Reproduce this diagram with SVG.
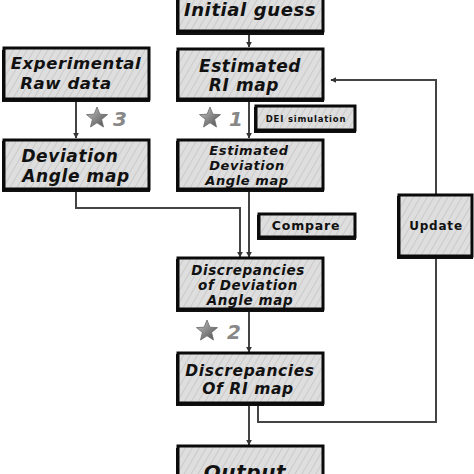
<svg xmlns="http://www.w3.org/2000/svg" width="474" height="474" viewBox="0 0 474 474">
<defs>
<pattern id="hatch" width="6" height="6" patternUnits="userSpaceOnUse" patternTransform="rotate(30)">
<rect width="6" height="6" fill="#dedede"/>
<line x1="0" y1="0" x2="0" y2="6" stroke="#c4c4c4" stroke-width="1.5"/>
</pattern>
<marker id="ah" viewBox="0 0 10 10" refX="9" refY="5" markerWidth="6" markerHeight="6" orient="auto" markerUnits="userSpaceOnUse">
<path d="M0,0 L10,5 L0,10 z" fill="#333"/>
</marker>
<linearGradient id="sg" x1="0" y1="0" x2="1" y2="1">
<stop offset="0" stop-color="#c8c8c8"/>
<stop offset="1" stop-color="#4a4a4a"/>
</linearGradient>
<polygon id="star" points="0,-11 2.9,-3.8 10.5,-3.4 4.6,1.4 6.5,9 0,4.8 -6.5,9 -4.6,1.4 -10.5,-3.4 -2.9,-3.8" fill="url(#sg)" stroke="#6a6a6a" stroke-width="0.8"/>
</defs>
<style>
.box{fill:url(#hatch);stroke:#0a0a0a;stroke-width:3}
.sh{fill:#111}
.t{font-family:"DejaVu Sans",Verdana,sans-serif;font-weight:bold;font-style:italic;fill:#111;text-anchor:middle;letter-spacing:0.6px}
.n{font-family:"DejaVu Sans",Verdana,sans-serif;font-weight:bold;fill:#111;text-anchor:middle;letter-spacing:0.8px}
.num{font-family:"DejaVu Sans",Verdana,sans-serif;font-weight:bold;font-style:italic;fill:#888;font-size:20px}
.c{fill:none;stroke:#444;stroke-width:2}
</style>
<rect width="474" height="474" fill="#fff"/>
<g id="connectors">
<path class="c" d="M249,32 V47" marker-end="url(#ah)"/>
<path class="c" d="M249,100 V138" marker-end="url(#ah)"/>
<path class="c" d="M76,101 V138" marker-end="url(#ah)"/>
<path class="c" d="M76,190 V208 H240 V257" marker-end="url(#ah)"/>
<path class="c" d="M249,190 V257" marker-end="url(#ah)"/>
<path class="c" d="M249,310 V352" marker-end="url(#ah)"/>
<path class="c" d="M249,404 V445" marker-end="url(#ah)"/>
<path class="c" d="M258,404 V422 H436 V257"/>
<path class="c" d="M436,194 V80 H331" marker-end="url(#ah)"/>
</g>
<g id="initial-guess">
<rect class="sh" x="176" y="-12" width="148" height="47"/>
<rect class="box" x="178" y="-14" width="145" height="45"/>
<text class="t" x="250" y="16" font-size="18">Initial guess</text>
</g>
<g id="experimental-raw-data">
<rect class="sh" x="2" y="50" width="148" height="52"/>
<rect class="box" x="4" y="48" width="145" height="51"/>
<text class="t" x="76" y="69" font-size="16.5">Experimental</text>
<text class="t" x="66" y="89" font-size="16.5">Raw data</text>
</g>
<g id="estimated-ri-map">
<rect class="sh" x="176" y="51" width="148" height="51"/>
<rect class="box" x="178" y="49" width="145" height="50"/>
<text class="t" x="250" y="72" font-size="17">Estimated</text>
<text class="t" x="244" y="91" font-size="17">RI map</text>
</g>
<g id="star3"><use href="#star" x="97" y="118"/><text class="num" x="113" y="126">3</text></g>
<g id="star1"><use href="#star" x="210" y="118"/><text class="num" x="229" y="126">1</text></g>
<g id="dei-simulation">
<rect class="sh" x="254" y="107" width="102" height="26"/>
<rect class="box" x="256" y="106" width="99" height="24"/>
<text class="n" x="306" y="121.5" font-size="8.5" letter-spacing="0.2">DEI simulation</text>
</g>
<g id="deviation-angle-map">
<rect class="sh" x="2" y="141" width="148" height="51"/>
<rect class="box" x="4" y="140" width="145" height="49"/>
<text class="t" x="70" y="162" font-size="17">Deviation</text>
<text class="t" x="76" y="182" font-size="17">Angle map</text>
</g>
<g id="estimated-deviation-angle-map">
<rect class="sh" x="176" y="141" width="148" height="51"/>
<rect class="box" x="178" y="140" width="145" height="49"/>
<text class="t" x="249" y="155" font-size="13">Estimated</text>
<text class="t" x="247" y="170" font-size="13">Deviation</text>
<text class="t" x="247" y="185" font-size="13">Angle map</text>
</g>
<g id="compare">
<rect class="sh" x="257" y="215" width="99" height="25"/>
<rect class="box" x="259" y="214" width="96" height="23"/>
<text class="n" x="306" y="230" font-size="12.5">Compare</text>
</g>
<g id="update">
<rect class="sh" x="397" y="196" width="76" height="63"/>
<rect class="box" x="399" y="195" width="73" height="61"/>
<text class="n" x="436" y="230" font-size="12">Update</text>
</g>
<g id="discrepancies-deviation">
<rect class="sh" x="176" y="259" width="148" height="53"/>
<rect class="box" x="178" y="258" width="145" height="51"/>
<text class="t" x="248" y="275" font-size="13.5">Discrepancies</text>
<text class="t" x="248" y="290" font-size="13.5">of Deviation</text>
<text class="t" x="250" y="305" font-size="13.5">Angle map</text>
</g>
<g id="star2"><use href="#star" x="207" y="331"/><text class="num" x="227" y="339">2</text></g>
<g id="discrepancies-ri">
<rect class="sh" x="176" y="354" width="148" height="52"/>
<rect class="box" x="178" y="353" width="145" height="50"/>
<text class="t" x="250" y="376" font-size="15.5">Discrepancies</text>
<text class="t" x="248" y="394" font-size="15.5">Of RI map</text>
</g>
<g id="output">
<rect class="sh" x="176" y="448" width="148" height="40"/>
<rect class="box" x="178" y="446" width="145" height="40"/>
<text class="t" x="245" y="479" font-size="20">Output</text>
</g>
</svg>
